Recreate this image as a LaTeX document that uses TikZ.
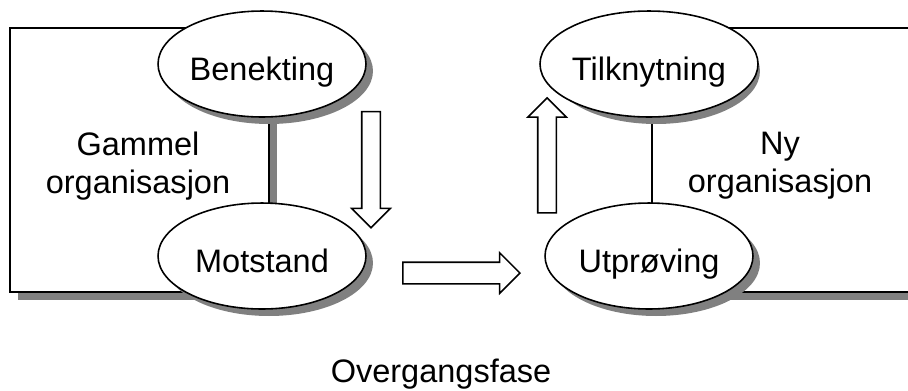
\documentclass[tikz,border=0pt]{standalone}
\usepackage{fontspec}
\setmainfont{Liberation Sans}
\usetikzlibrary{shapes.geometric, shapes.arrows, positioning}
\tikzstyle{shade}=[fill=gray]
\tikzstyle{phase}=[ellipse,draw=black,line width=0.9pt,fill=white,minimum width=4.16cm,minimum height=2.12cm,inner sep=0pt,text height=19pt,text depth=0pt]
\tikzstyle{orgbox}=[draw=black,line width=0.9pt,fill=white]
\tikzstyle{bigarrow}=[single arrow,draw=black,line width=0.9pt,fill=white,inner xsep=0pt,inner ysep=0.17cm,minimum width=0.74cm,single arrow head extend=0.2cm,single arrow head indent=0pt]

\begin{document}
\begin{tikzpicture}[x=0.02cm,y=-0.02cm,font=\fontsize{18.5}{21.6}\selectfont]
	\useasboundingbox (0,0) rectangle (908,390);
	\clip (0,0) rectangle (908,390);

	\coordinate (pb) at (262,64);
	\coordinate (pm) at (262,256);
	\coordinate (pt) at (649,64);
	\coordinate (pu) at (649,256);

	% gammel og ny organisasjon, med skygge
	\fill[shade] (18,36) rectangle (277,300);
	\draw[orgbox] (10,28) rectangle (269,292);
	\fill[shade] (660,36) rectangle (968,300);
	\draw[orgbox] (652,28) rectangle (960,292);

	% skygger bak fasene
	\fill[shade] ([shift={(7,7)}]pb) ellipse [x radius=2.08cm, y radius=1.06cm];
	\fill[shade] ([shift={(7,7)}]pm) ellipse [x radius=2.08cm, y radius=1.06cm];
	\fill[shade] ([shift={(7,7)}]pt) ellipse [x radius=2.08cm, y radius=1.06cm];
	\fill[shade] ([shift={(7,7)}]pu) ellipse [x radius=2.08cm, y radius=1.06cm];

	\node [phase] (benekting) at (pb) {Benekting};
	\node [phase] (motstand) at (pm) {Motstand};
	\node [phase] (tilknytning) at (pt) {Tilknytning};
	\node [phase] (utproving) at (pu) {Utprøving};

	\node [align=center] (gammel) at (138,166) {Gammel\\organisasjon};
	\node [align=center] (ny) at (780,166) {Ny\\organisasjon};
	\node [anchor=base] (overgangsfase) at (441,382) {Overgangsfase};

	% blokkpiler
	\node [bigarrow, minimum height=2.32cm, rotate=-90] (ned) at (371,165) {};
	\node [bigarrow, minimum height=2.34cm, inner ysep=0.2cm, minimum width=0.78cm, single arrow head extend=0.19cm] (fram) at (456,273) {};
	\node [bigarrow, minimum height=2.3cm, rotate=90] (opp) at (547,160) {};
\end{tikzpicture}
\end{document}
